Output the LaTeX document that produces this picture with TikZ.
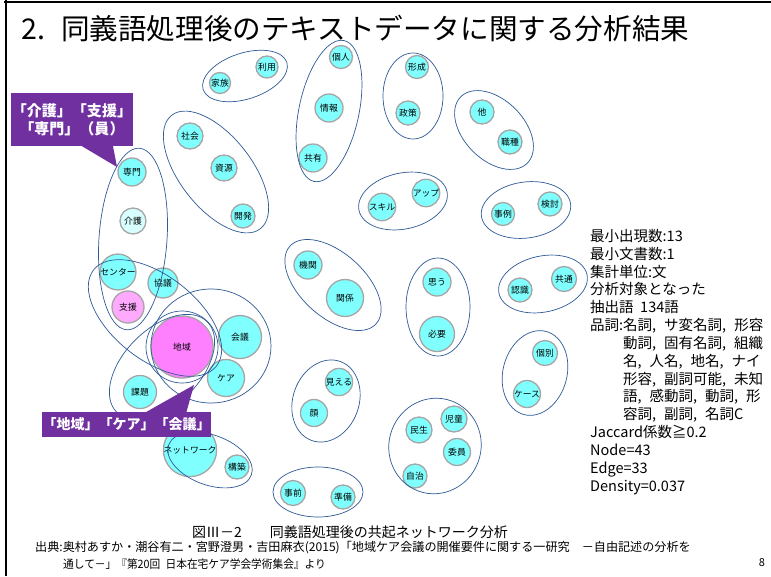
\documentclass[tikz,border=0pt]{standalone}
\usepackage{fontspec}
\setmainfont{Noto Sans CJK JP}
\usetikzlibrary{backgrounds}
\definecolor{cy}{RGB}{128,255,255}
\definecolor{cyl}{RGB}{215,255,255}
\definecolor{pk}{RGB}{255,170,255}
\definecolor{mg}{RGB}{255,128,255}
\definecolor{ndc}{RGB}{165,165,165}
\definecolor{edc}{RGB}{165,165,165}
\definecolor{ellc}{RGB}{46,90,150}
\definecolor{purp}{RGB}{112,48,160}
\newcommand\wn[5][cy]{\node[nd,fill=#1,minimum size=#4pt] (#2) at (#3) {#5};}
\newcommand\cm{,\hspace{0.55em}}
\begin{document}
\begin{tikzpicture}[x=1pt,y=-1pt,
  nd/.style={circle, draw=ndc, line width=1.3pt, inner sep=0pt, font=\fontsize{8.8}{8.8}\selectfont, text=black},
  ed/.style={draw=edc, line width=1.3pt},
  ell/.style={draw=ellc, line width=0.7pt},
  callout/.style={fill=purp, text=white, font=\bfseries\fontsize{15}{18}\selectfont, align=center, inner sep=0pt},
  stat/.style={anchor=base west, inner sep=0pt, font=\fontsize{14.5}{14.5}\selectfont},
  frame/.style={line width=2.5pt, draw=black}]
\useasboundingbox (0,0) rectangle (771,576);
\fill[white] (0,0) rectangle (771,576);
\draw[frame] (4,2) -- (771,2);
\draw[frame] (6,0) -- (6,576);
% title
\node[anchor=west, inner sep=0pt, font=\fontsize{28.6}{28.6}\selectfont] (title) at (21,29) {2.\hspace{16pt}同義語処理後のテキストデータに関する分析結果};
% nodes
\wn{ka}{220,83}{21}{家族}
\wn{ri}{267,67}{22}{利用}
\wn{sh}{190,136}{26}{社会}
\wn{sg}{224,168}{26}{資源}
\wn{kh}{243,216}{24}{開発}
\wn{sm}{132,172}{28}{専門}
\wn[cyl]{kg}{133,221}{26}{介護}
\wn{ct}{118,272}{29}{センター}
\wn{kyo}{163,283}{30}{協議}
\wn[pk]{sie}{128,307}{32}{支援}
\wn[mg]{chi}{182,347}{62}{地域}
\wn{kai}{240,337}{43}{会議}
\wn{ca}{226,378}{37}{ケア}
\wn{kad}{140,392}{33}{課題}
\wn{nw}{190,450}{25}{ネットワーク}
\wn{kc}{237,467}{24}{構築}
\wn{kj}{341,57}{23}{個人}
\wn{jh}{329,108}{28}{情報}
\wn{ky}{313,158}{28}{共有}
\wn{ks}{417,67}{23}{形成}
\wn{ss}{408,113}{24}{政策}
\wn{ta}{482,112}{24}{他}
\wn{shk}{510,142}{24}{職種}
\wn{sk}{382,207}{23}{スキル}
\wn{ap}{426,193}{23}{アップ}
\wn{jr}{503,214}{23}{事例}
\wn{kt}{550,204}{24}{検討}
\wn{kk}{308,265}{28}{機関}
\wn{kn}{345,298}{37}{関係}
\wn{om}{437,282}{28}{思う}
\wn{hy}{437,334}{35}{必要}
\wn{ni}{520,290}{24}{認識}
\wn{kts}{564,279}{25}{共通}
\wn{kb}{545,353}{25}{個別}
\wn{kse}{527,394}{27}{ケース}
\wn{mi}{339,382}{25}{見える}
\wn{ko}{314,413}{27}{顔}
\wn{mn}{419,430}{26}{民生}
\wn{jd}{454,419}{26}{児童}
\wn{ii}{457,452}{27}{委員}
\wn{jc}{415,476}{24}{自治}
\wn{jz}{293,493}{25}{事前}
\wn{jb}{343,497}{24}{準備}
% edges
\begin{scope}[on background layer]
\draw[ed] (ka)--(ri) (sh)--(sg) (sg)--(kh) (sm)--(kg) (kj)--(jh) (jh)--(ky)
 (ks)--(ss) (ta)--(shk) (sk)--(ap) (jr)--(kt) (kk)--(kn) (om)--(hy)
 (ni)--(kts) (kb)--(kse) (mi)--(ko) (jz)--(jb) (nw)--(kc)
 (mn)--(jd) (mn)--(ii) (jd)--(ii) (mn)--(jc) (jc)--(jd) (jc)--(ii)
 (kg)--(sie) (ct)--(sie) (ct)--(kyo) (sie)--(kyo) (sie)--(chi) (kyo)--(chi)
 (chi)--(kai) (chi)--(ca) (kai)--(ca) (chi)--(kad);
\end{scope}
% ellipses
\draw[ell, rotate around={18:(245,76)}] (245,76) ellipse [x radius=44, y radius=23];
\draw[ell, rotate around={-52:(216,172)}] (216,172) ellipse [x radius=72, y radius=36];
\draw[ell, rotate around={-4:(133,239)}] (133,239) ellipse [x radius=34, y radius=91];
\draw[ell, rotate around={-38:(155,318)}] (155,318) ellipse [x radius=78, y radius=42];
\draw[ell] (182,347) ellipse [x radius=36, y radius=36];
\draw[ell] (211,346) ellipse [x radius=60, y radius=57];
\draw[ell, rotate around={45:(162,367)}] (162,367) ellipse [x radius=64, y radius=38];
\draw[ell, rotate around={-20:(210,460)}] (210,460) ellipse [x radius=44, y radius=25];
\draw[ell, rotate around={78:(329,111)}] (329,111) ellipse [x radius=72, y radius=30];
\draw[ell] (413,96) ellipse [x radius=30, y radius=43];
\draw[ell, rotate around={-45:(494,130)}] (494,130) ellipse [x radius=47, y radius=30];
\draw[ell, rotate around={12:(403,201)}] (403,201) ellipse [x radius=45, y radius=28];
\draw[ell, rotate around={8:(526,210)}] (526,210) ellipse [x radius=45, y radius=28];
\draw[ell, rotate around={-42:(333,285)}] (333,285) ellipse [x radius=58, y radius=32];
\draw[ell] (438,307) ellipse [x radius=32, y radius=49];
\draw[ell, rotate around={12:(543,284)}] (543,284) ellipse [x radius=45, y radius=28];
\draw[ell, rotate around={-15:(535,373)}] (535,373) ellipse [x radius=32, y radius=43];
\draw[ell, rotate around={-20:(326,401)}] (326,401) ellipse [x radius=33, y radius=42];
\draw[ell, rotate around={-20:(435,446)}] (435,446) ellipse [x radius=46, y radius=48];
\draw[ell] (318,492) ellipse [x radius=45, y radius=25];
% callouts
\node[callout, minimum width=122pt, minimum height=53pt] (c1) at (72,119.5) {「介護」「支援」\\「専門」（員）};
\coordinate (t1) at (117,167);
\fill[purp] ([xshift=10pt]c1.south) -- (t1) -- ([xshift=41pt]c1.south) -- cycle;
\node[callout, font=\bfseries\fontsize{14}{14}\selectfont, minimum width=169pt, minimum height=25pt] (c2) at (126.5,424.5) {「地域」「ケア」「会議」};
\coordinate (t2) at (194,385);
\fill[purp] ([xshift=20pt]c2.north) -- (t2) -- ([xshift=60pt]c2.north) -- cycle;
% stats
\node[stat] (s1) at (590,241) {最小出現数:13};
\node[stat] (s2) at (590,259) {最小文書数:1};
\node[stat] (s3) at (590,277) {集計単位:文};
\node[stat] (s4) at (590,294) {分析対象となった};
\node[stat] (s5) at (590,312) {抽出語\ \ 134語};
\node[stat] (s6) at (590,330) {品詞:名詞\cm サ変名詞\cm 形容};
\node[stat] (s7) at (623,348) {動詞\cm 固有名詞\cm 組織};
\node[stat] (s8) at (623,366) {名\cm 人名\cm 地名\cm ナイ};
\node[stat] (s9) at (623,384) {形容\cm 副詞可能\cm 未知};
\node[stat] (s10) at (623,401) {語\cm 感動詞\cm 動詞\cm 形};
\node[stat] (s11) at (623,419) {容詞\cm 副詞\cm 名詞C};
\node[stat] (s12) at (590,437) {Jaccard係数≧0.2};
\node[stat] (s13) at (590,455) {Node=43};
\node[stat] (s14) at (590,473) {Edge=33};
\node[stat] (s15) at (590,491) {Density=0.037};
% caption
\node[inner sep=0pt, font=\fontsize{14}{14}\selectfont] (cap) at (350,532) {図Ⅲ－2　　同義語処理後の共起ネットワーク分析};
\node[anchor=west, inner sep=0pt, font=\fontsize{12.1}{12.1}\selectfont] (src1) at (35,548) {出典:奥村あすか・潮谷有二・宮野澄男・吉田麻衣(2015)「地域ケア会議の開催要件に関する一研究\quad －自由記述の分析を};
\node[anchor=west, inner sep=0pt, font=\fontsize{11.5}{11.5}\selectfont] (src2) at (63,564) {\scalebox{0.93}[1]{通して－」『第20回\enspace 日本在宅ケア学会学術集会』より}};
\node[inner sep=0pt, font=\fontsize{11}{11}\selectfont] (pg) at (762,563) {8};
\end{tikzpicture}
\end{document}
